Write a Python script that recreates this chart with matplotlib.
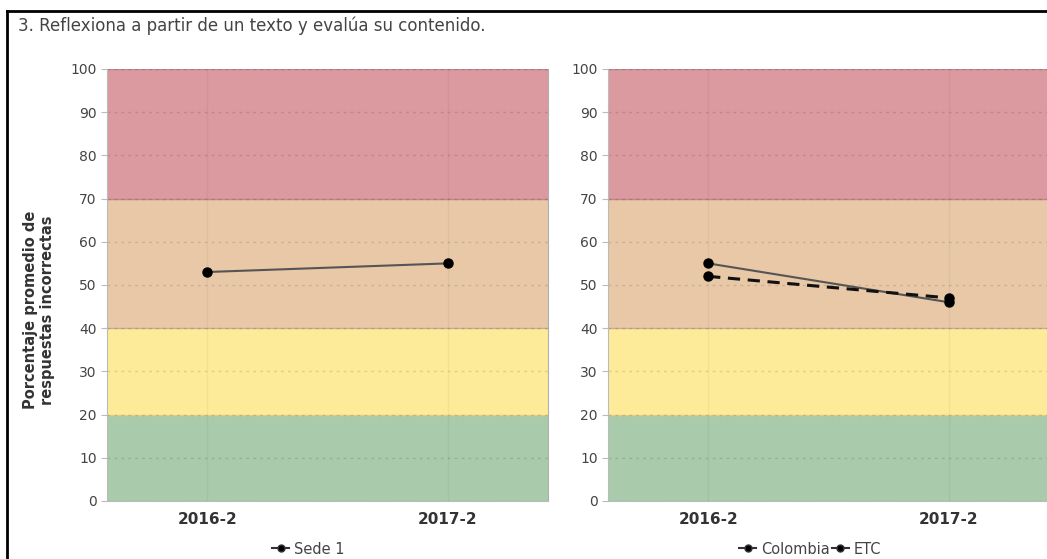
import matplotlib

matplotlib.use("Agg")
import matplotlib.pyplot as plt  # noqa: E402
from matplotlib.lines import Line2D  # noqa: E402

periods = ["2016-2", "2017-2"]
sede = [53, 55]
colombia = [55, 46]
etc = [52, 47]

band_edges = [0, 20, 40, 70, 100]
band_colors = ["#a9caab", "#fdeb99", "#e8c8a6", "#da9aa0"]
TXT = "#444444"

fig = plt.figure(figsize=(10.47, 5.59), dpi=100)
ax1 = fig.add_axes([0.1022, 0.1038, 0.4212, 0.7728])
ax2 = fig.add_axes([0.5807, 0.1038, 0.4212, 0.7728])


def style(ax):
    for lo, hi, c in zip(band_edges[:-1], band_edges[1:], band_colors):
        ax.axhspan(lo, hi, color=c, zorder=0)
        ax.axhline(hi, color="#000000", alpha=0.12, lw=1, zorder=0.5)
    ax.set_ylim(0, 100)
    ax.set_xlim(-0.416, 1.416)
    ax.set_yticks(range(0, 101, 10))
    ax.set_xticks([0, 1])
    ax.set_xticklabels(periods, fontweight="bold", fontsize=11, color="#333333")
    ax.tick_params(axis="y", labelsize=10, labelcolor=TXT, color="#bbbbbb", length=4)
    ax.tick_params(axis="x", length=0, pad=8)
    ax.grid(axis="y", ls=(0, (2, 3)), color="#000000", alpha=0.12, lw=1)
    ax.grid(axis="x", color="#000000", alpha=0.04, lw=1)
    for s in ax.spines.values():
        s.set_color("#bbbbbb")
    ax.spines["top"].set_visible(False)
    ax.spines["right"].set_color("#b0b0b0")


style(ax1)
style(ax2)

ax1.plot([0, 1], sede, color="#555555", lw=1.5, marker="o", ms=6.5,
         mfc="black", mec="black", zorder=3)
ax2.plot([0, 1], colombia, color="#555555", lw=1.5, marker="o", ms=6.5,
         mfc="black", mec="black", zorder=3)
ax2.plot([0, 1], etc, color="#111111", lw=2.2, ls=(0, (4, 2.5)), marker="o", ms=6.5,
         mfc="black", mec="black", zorder=3)

h1 = [Line2D([], [], color="#333333", lw=1.5, marker="o", ms=5, mfc="black")]
ax1.legend(h1, ["Sede 1"], loc="center", bbox_to_anchor=(308 / 1047, 10 / 559),
           bbox_transform=fig.transFigure, frameon=False, fontsize=10.5,
           handlelength=1.2, handletextpad=0.3, labelcolor=TXT)
h2 = [Line2D([], [], color="#333333", lw=1.5, marker="o", ms=5, mfc="black"),
      Line2D([], [], color="#333333", lw=1.5, marker="o", ms=5, mfc="black")]
ax2.legend(h2, ["Colombia", "ETC"], loc="center", bbox_to_anchor=(810 / 1047, 10 / 559),
           bbox_transform=fig.transFigure, frameon=False, fontsize=10.5, ncol=2,
           handlelength=1.2, handletextpad=0.3, columnspacing=0.15, labelcolor=TXT)

fig.text(39 / 1047, 1 - 310 / 559, "Porcentaje promedio de\nrespuestas incorrectas",
         rotation=90, ha="center", va="center", fontsize=10.5, fontweight="bold",
         color="#333333", linespacing=1.15)
fig.text(18 / 1047, 1 - 26 / 559, "3. Reflexiona a partir de un texto y evalúa su contenido.",
         ha="left", va="center", fontsize=12, color=TXT)

# screenshot frame
fig.add_artist(Line2D([7 / 1047, 7 / 1047], [0, 1 - 11 / 559], color="black", lw=2,
                      transform=fig.transFigure))
fig.add_artist(Line2D([7 / 1047, 1], [1 - 11 / 559, 1 - 11 / 559], color="black", lw=2,
                      transform=fig.transFigure))

fig.savefig("out.png", dpi=100)
